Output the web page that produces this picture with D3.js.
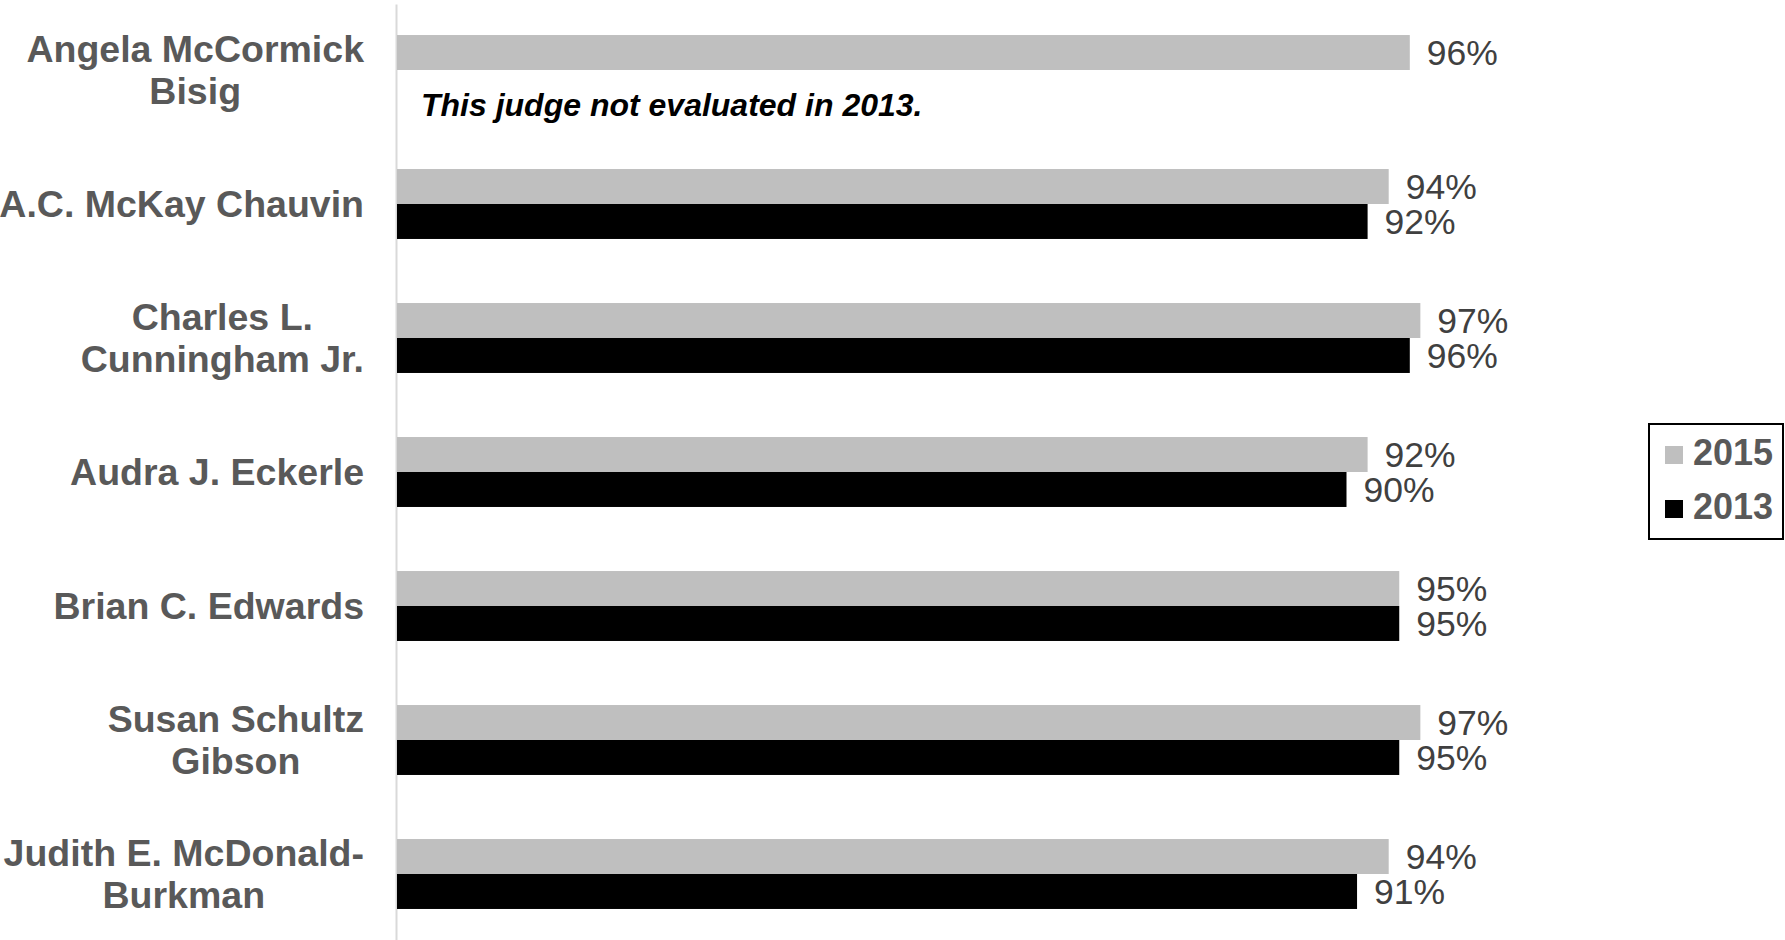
<!DOCTYPE html>
<html>
<head>
<meta charset="utf-8">
<script src="https://cdn.jsdelivr.net/npm/d3@7"></script>
<style>
  html, body { margin: 0; padding: 0; background: #fff; }
  svg { display: block; }
</style>
</head>
<body>
<svg id="chart" width="1785" height="940"></svg>
<script>
// ---- data ----
const judges = [
  "Angela McCormick|Bisig",
  "A.C. McKay Chauvin",
  "Charles L.|Cunningham Jr.",
  "Audra J. Eckerle",
  "Brian C. Edwards",
  "Susan Schultz|Gibson",
  "Judith E. McDonald-|Burkman"
];
const seriesNames = ["2015", "2013"];
const values2015 = [0.96, 0.94, 0.97, 0.92, 0.95, 0.97, 0.94];
const values2013 = [null, 0.92, 0.96, 0.90, 0.95, 0.95, 0.91];
const seriesColors = ["#bfbfbf", "#000000"];
const noteText = "This judge not evaluated in 2013.";

// ---- layout ----
const svg = d3.select("#chart");
const x0 = 397;
const x = d3.scaleLinear().domain([0, 1]).range([x0, x0 + 1055]);
const y = d3.scaleBand().domain(judges).range([3, 941]).paddingInner(0.478).paddingOuter(0.239);
const ySub = d3.scaleBand().domain(seriesNames).range([0, y.bandwidth()]);
const color = d3.scaleOrdinal().domain(seriesNames).range(seriesColors);

const rows = [];
judges.forEach((j, i) => {
  rows.push({judge: j, series: "2015", value: values2015[i]});
  rows.push({judge: j, series: "2013", value: values2013[i]});
});
const valid = rows.filter(d => d.value != null);

// axis line
const axis = d3.axisLeft(d3.scaleLinear().range([4, 940])).ticks(0).tickSizeOuter(0);
const ag = svg.append("g").attr("transform", `translate(396,0)`).call(axis);
ag.select(".domain").attr("stroke", "#d9d9d9").attr("stroke-width", 2);

// bars
svg.append("g").selectAll("rect").data(valid).join("rect")
  .attr("x", x(0))
  .attr("y", d => y(d.judge) + ySub(d.series))
  .attr("width", d => x(d.value) - x(0))
  .attr("height", ySub.bandwidth())
  .attr("fill", d => color(d.series));

// value labels
svg.append("g").selectAll("text").data(valid).join("text")
  .attr("x", d => x(d.value) + 17)
  .attr("y", d => y(d.judge) + ySub(d.series) + ySub.bandwidth() / 2 + 12.5)
  .attr("font-family", "Liberation Sans, Arial, sans-serif")
  .attr("font-size", 35.5)
  .attr("fill", "#404040")
  .text(d => d3.format(".0%")(d.value));

// note for missing
judges.forEach((j, i) => {
  if (values2013[i] == null) {
    svg.append("text")
      .attr("x", 421)
      .attr("y", y(j) + ySub("2013") + ySub.bandwidth() / 2 + 29)
      .attr("font-family", "Liberation Sans, Arial, sans-serif")
      .attr("font-size", 32)
      .attr("font-weight", "bold")
      .attr("font-style", "italic")
      .attr("fill", "#000")
      .text(noteText);
  }
});

// category labels
const labelRight = 364;
const lineH = 42;
judges.forEach(j => {
  const lines = j.split("|");
  const cy = y(j) + y.bandwidth() / 2;
  const g = svg.append("g");
  const texts = lines.map((l, k) => g.append("text")
    .attr("font-family", "Liberation Sans, Arial, sans-serif")
    .attr("font-size", 37.5)
    .attr("font-weight", "bold")
    .attr("fill", "#595959")
    .attr("text-anchor", "middle")
    .attr("y", cy + 13 - (lines.length - 1) * lineH / 2 + k * lineH)
    .text(l));
  const maxW = d3.max(texts, t => t.node().getComputedTextLength());
  const center = labelRight - maxW / 2;
  texts.forEach(t => t.attr("x", center));
});

// legend
const lg = svg.append("g");
lg.append("rect").attr("x", 1649).attr("y", 424).attr("width", 134).attr("height", 115)
  .attr("fill", "#fff").attr("stroke", "#000").attr("stroke-width", 2);
seriesNames.forEach((s, i) => {
  lg.append("rect").attr("x", 1665).attr("y", 446 + i * 54).attr("width", 18).attr("height", 18)
    .attr("fill", color(s));
  lg.append("text").attr("x", 1693).attr("y", 465 + i * 54)
    .attr("font-family", "Liberation Sans, Arial, sans-serif")
    .attr("font-size", 36).attr("font-weight", "bold").attr("fill", "#595959")
    .text(s);
});
</script>
</body>
</html>
